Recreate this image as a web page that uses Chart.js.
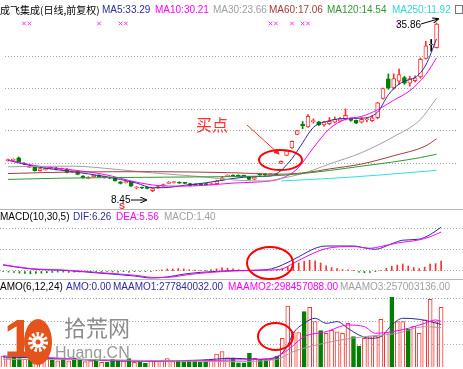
<!DOCTYPE html>
<html>
<head>
<meta charset="utf-8">
<script src="https://cdn.jsdelivr.net/npm/chart.js@4/dist/chart.umd.min.js"></script>
<style>
  body { margin: 0; background: #fff; }
  #wrap { position: relative; width: 463px; height: 369px; overflow: hidden;
          font-family: "Liberation Sans", Arial, "Noto Sans CJK SC", sans-serif; font-size: 10px; }
  canvas { position: absolute; left: 0; }
  .t { position: absolute; white-space: nowrap; line-height: 12px; }
  .sep { position: absolute; left: 0; width: 463px; height: 1px; background: #b8b8b8; }
</style>
</head>
<body>
<div id="wrap">
  <canvas id="main" width="463" height="209" style="top:0"></canvas>
  <canvas id="macd" width="463" height="70" style="top:209px"></canvas>
  <canvas id="amo" width="463" height="90" style="top:279px"></canvas>
  <div class="sep" style="top:209px"></div>
  <div class="sep" style="top:279px"></div>

  <!-- titles -->
  <div class="t" style="left:0;top:4px;color:#000;font-family:'Noto Sans CJK SC';">成飞集成(日线,前复权)</div>
  <div class="t" style="left:102px;top:4px;color:#2c2ca0">MA5:33.29</div>
  <div class="t" style="left:155px;top:4px;color:#ff00ff">MA10:30.21</div>
  <div class="t" style="left:213px;top:4px;color:#a0a0a0">MA30:23.66</div>
  <div class="t" style="left:269px;top:4px;color:#a33c3c">MA60:17.06</div>
  <div class="t" style="left:327px;top:4px;color:#2e9a2e">MA120:14.54</div>
  <div class="t" style="left:392px;top:4px;color:#30d8d8">MA250:11.92</div>
  <div style="position:absolute;left:455px;top:5px;width:6px;height:7px;border:1px solid #777"></div>

  <div class="t" style="left:0;top:211px;color:#000">MACD(10,30,5)</div>
  <div class="t" style="left:73px;top:211px;color:#2c2ca0">DIF:6.26</div>
  <div class="t" style="left:116px;top:211px;color:#ff00ff">DEA:5.56</div>
  <div class="t" style="left:164px;top:211px;color:#a0a0a0">MACD:1.40</div>

  <div class="t" style="left:0;top:281px;color:#000">AMO(6,12,24)</div>
  <div class="t" style="left:66px;top:281px;color:#2c2ca0">AMO:0.00</div>
  <div class="t" style="left:113px;top:281px;color:#2c2ca0">MAAMO1:277840032.00</div>
  <div class="t" style="left:228px;top:281px;color:#ff00ff">MAAMO2:298457088.00</div>
  <div class="t" style="left:340px;top:281px;color:#a0a0a0">MAAMO3:257003136.00</div>

  <!-- notes drawn on the picture -->
  <div class="t" style="left:396px;top:19px;color:#000">35.86</div>
  <div class="t" style="left:111px;top:194px;color:#000">8.45</div>
  <div class="t" style="left:119px;top:200px;color:#ff2020;font-weight:bold;font-size:9px">S</div>
  <div class="t" style="left:196px;top:115px;color:#ff3030;font-size:16px;line-height:18px;font-family:'Noto Sans CJK SC'">买点</div>

  <!-- watermark -->
  <div class="t" style="left:4px;top:308px;color:#e5531d;font-size:54px;line-height:60px;font-weight:bold">1</div>
  <svg width="463" height="369" style="position:absolute;left:0;top:0">
    <ellipse cx="38" cy="342" rx="14" ry="23" fill="#e5531d"/>
    <circle cx="38" cy="342" r="8" fill="none" stroke="#fff" stroke-width="4" stroke-dasharray="2.5 2"/>
    <circle cx="38" cy="342" r="6" fill="#fff"/>
    <circle cx="38" cy="342" r="2.5" fill="#e5531d"/>
  </svg>
  <div class="t" style="left:64px;top:313px;color:#8c8c8c;font-size:22px;line-height:26px;font-family:'Noto Sans CJK SC'">拾荒网</div>
  <div class="t" style="left:55px;top:343px;color:#999;font-size:16px;line-height:20px">Huang.CN</div>

  <svg width="463" height="369" style="position:absolute;left:0;top:0">
    <defs>
      <marker id="ar" markerWidth="6" markerHeight="6" refX="5" refY="3" orient="auto">
        <path d="M0,0 L6,3 L0,6 z" fill="#ff2020"/>
      </marker>
      <marker id="ab" markerWidth="7" markerHeight="6" refX="6" refY="3" orient="auto">
        <path d="M0,0 L7,3 L0,6" fill="none" stroke="#000" stroke-width="1"/>
      </marker>
    </defs>
    <line x1="247" y1="125" x2="279" y2="154" stroke="#ff3030" stroke-width="1" marker-end="url(#ar)"/>
    <ellipse cx="280.5" cy="160" rx="21.5" ry="10" fill="none" stroke="#ff0000" stroke-width="2"/>
    <ellipse cx="270" cy="263" rx="23" ry="16" fill="none" stroke="#ff0000" stroke-width="2"/>
    <ellipse cx="275.5" cy="336.5" rx="17.5" ry="13.5" fill="none" stroke="#ff0000" stroke-width="2"/>
    <line x1="421" y1="24" x2="438" y2="19" stroke="#000" stroke-width="1" marker-end="url(#ab)"/>
    <line x1="131" y1="200" x2="146" y2="200" stroke="#000" stroke-width="1" marker-end="url(#ab)"/>
  </svg>
</div>

<script>
// daily candles, bar index 0..80 (price in yuan)
const open  = [13.50,13.55,13.95,13.10,12.40,12.50,11.85,12.00,12.25,12.30,12.10,12.10,11.70,11.80,11.00,10.60,10.90,11.10,10.80,10.75,
               10.70,10.05,9.90,10.05,9.05,9.10,9.05,8.60,9.05,9.35,9.80,9.95,10.00,9.90,9.75,9.70,9.65,9.70,9.60,9.75,
               10.30,10.95,11.10,11.10,11.00,10.90,10.50,11.25,11.25,11.20,11.30,13.05,14.35,15.55,17.75,19.45,19.00,19.85,19.80,19.30,
               19.50,19.75,19.90,20.20,20.25,20.05,19.75,20.15,20.00,20.50,23.60,26.80,25.30,26.40,27.00,26.10,26.50,27.10,30.10,32.30,31.85];
const high  = [13.75,13.80,14.10,13.20,12.65,12.60,12.30,12.30,12.45,12.40,12.30,12.20,11.85,11.85,11.05,10.90,11.15,11.20,11.00,10.85,
               10.80,10.10,10.20,10.10,9.30,9.20,9.15,9.00,9.35,9.70,10.10,10.10,10.05,9.95,9.80,9.75,9.75,9.80,9.85,10.30,
               10.95,11.20,11.20,11.20,11.15,10.95,10.90,11.35,11.35,11.40,11.35,13.45,15.20,16.70,18.45,19.85,21.00,20.30,19.90,19.90,
               20.50,20.60,20.50,21.90,20.40,20.10,20.50,20.45,20.80,23.00,25.30,27.60,27.60,28.40,27.20,27.20,27.30,30.20,32.90,33.20,35.86];
const low   = [13.40,13.45,13.20,12.85,12.35,11.80,11.80,11.95,12.15,12.00,12.00,11.50,11.55,11.20,10.65,10.55,10.85,10.80,10.65,10.55,
               10.15,9.70,9.85,9.30,8.90,8.95,8.90,8.45,9.00,9.30,9.75,9.85,9.80,9.75,9.40,9.45,9.50,9.55,9.55,9.70,
               10.25,10.90,10.90,10.85,10.90,10.40,10.40,11.10,11.10,11.15,11.10,13.00,14.30,15.50,17.70,18.70,18.90,19.60,19.20,19.10,
               19.35,19.60,19.80,20.10,19.90,19.50,19.60,19.80,19.85,20.30,23.50,25.10,25.10,25.90,25.90,25.60,26.30,26.90,30.00,31.30,31.80];
const close = [13.60,13.62,13.30,12.95,12.55,11.85,12.20,12.20,12.30,12.10,12.20,11.60,11.75,11.25,10.75,10.80,11.10,10.85,10.90,10.65,
               10.20,9.80,10.10,9.35,9.10,9.05,9.00,8.95,9.30,9.60,9.95,10.00,9.85,9.80,9.45,9.50,9.60,9.60,9.75,10.20,
               10.70,11.05,11.00,10.90,10.95,10.45,10.80,11.20,11.20,11.25,11.20,13.40,15.10,16.65,18.40,19.20,20.70,19.95,19.30,19.75,
               19.90,20.20,20.35,20.85,20.05,19.60,20.20,20.25,20.45,22.90,25.20,25.30,26.85,27.50,26.10,26.85,26.95,29.95,32.15,32.30,35.70];

// moving averages: [bar index], [price]
const ma5Idx   = [0,5,12,18,24,27,29,33,37,42,46,49,51,52,53,55,57,60,63,66,69,71,73,75,76,78,80];
const ma5      = [13.57,12.55,11.71,10.94,9.85,9.10,9.10,9.50,9.90,10.60,10.90,11.00,11.90,12.80,13.80,16.40,18.90,20.00,20.35,20.40,21.40,24.20,25.95,26.70,27.00,29.05,33.29];
const ma10Idx  = [0,5,12,18,24,28,32,37,42,46,49,51,54,57,60,63,66,69,72,75,78,80];
const ma10     = [13.60,12.70,12.00,11.25,10.00,9.45,9.35,9.50,9.85,10.00,10.20,10.60,12.17,15.58,18.68,20.22,20.69,21.77,23.32,24.87,27.50,30.21];
const ma30Idx  = [0,12,20,27,36,43,48,51,55,60,66,72,77,80];
const ma30     = [12.50,12.60,12.10,11.50,10.90,10.30,10.20,10.60,11.40,12.95,14.80,17.40,20.20,23.66];
const ma60Idx  = [0,12,27,41,51,56,60,66,72,78,80];
const ma60     = [11.40,11.65,11.70,11.55,11.30,11.60,12.15,12.95,14.30,15.90,17.06];
const ma120Idx = [0,10,20,35,45,51,60,66,72,77,80];
const ma120    = [10.45,10.65,10.75,10.85,10.95,11.10,11.90,12.60,13.30,14.00,14.54];
const ma250Idx = [51,60,70,80];
const ma250    = [10.20,10.60,11.20,11.92];
const signalIdx = [3,4,17,21,22,49,50,53,55,56,73];
const signalLevel = 35.8;
const priceGrid = [30.44,25.18,21.77,18.37,13.10];

// MACD(10,30,5)
const difIdx = [0,5,12,18,24,27,30,33,36,42,47,49,51,54,57,59,64,66,68,71,73,76,78,80];
const dif    = [0.86,0.30,0.05,-0.33,-0.71,-1.00,-0.85,-0.45,-0.20,0.05,0.14,0.30,0.86,2.04,3.24,3.57,3.57,3.30,3.10,3.90,4.40,4.55,5.20,6.26];
const deaIdx = [0,5,12,18,24,28,31,34,38,42,49,51,53,56,59,64,67,69,72,76,78,80];
const dea    = [0.90,0.35,0.10,-0.25,-0.60,-0.95,-0.85,-0.50,-0.20,0.00,0.15,0.30,1.10,2.30,3.20,3.50,3.25,3.50,4.00,4.45,4.90,5.56];
const macd   = [-0.10,-0.15,-0.20,-0.30,-0.35,-0.40,-0.35,-0.30,-0.25,-0.20,-0.15,-0.15,-0.20,-0.15,-0.15,-0.10,-0.15,-0.10,-0.15,-0.10,
                -0.15,-0.15,-0.10,-0.15,-0.10,-0.10,-0.05,-0.05,0.05,0.15,0.30,0.30,0.35,0.30,0.20,0.15,0.05,0.10,0.20,0.30,
                0.45,0.40,0.30,0.20,0.10,0.05,0.05,0.10,0.10,0.10,0.15,0.35,0.60,0.85,1.15,1.40,1.55,1.45,1.15,0.75,
                0.50,0.35,0.20,0.15,0.05,-0.15,-0.25,-0.20,-0.10,0.10,0.40,0.70,0.85,1.00,0.70,0.50,0.35,0.55,1.00,1.05,1.40];
const macdGrid = [0,3,6];

// AMO(6,12,24), amount in 亿元
const amo = [0.72,0.60,0.75,0.55,0.50,0.80,0.60,0.45,0.50,0.45,0.40,0.55,0.40,0.60,0.50,0.35,0.40,0.45,0.30,0.30,
             0.50,0.45,0.40,0.55,0.30,0.30,0.25,0.45,0.40,0.45,0.55,0.35,0.40,0.35,0.45,0.40,0.30,0.35,0.50,0.85,
             1.00,0.60,0.59,0.28,0.28,0.89,0.57,0.50,0.46,0.50,0.72,1.87,3.98,2.30,2.24,3.61,3.89,2.96,2.37,2.20,
             2.40,2.30,2.20,2.85,1.98,1.37,1.87,1.98,2.02,3.11,2.24,4.55,2.96,2.96,2.46,2.67,2.20,3.07,4.42,2.96,3.89];
const maamo1Idx = [0,6,18,27,36,42,47,50,52,53,55,57,59,61,63,65,67,69,71,73,76,78,80];
const maamo1    = [0.65,0.60,0.42,0.38,0.45,0.57,0.50,0.63,1.43,2.20,2.85,3.18,2.85,2.96,2.52,2.09,1.87,1.98,2.74,3.18,3.11,2.96,2.78];
const maamo2Idx = [0,6,18,27,36,42,49,52,55,59,63,66,68,71,74,77,79,80];
const maamo2    = [0.72,0.65,0.45,0.38,0.42,0.46,0.57,1.11,1.98,2.30,2.74,2.63,2.20,2.30,2.52,2.85,3.07,2.98];
const maamo3Idx = [0,12,27,42,50,53,60,66,72,77,80];
const maamo3    = [0.50,0.50,0.42,0.35,0.50,1.00,1.65,1.98,2.20,2.63,2.57];
const amoGrid = [1.5,3.0,4.5];

const UP = '#ff3030', DOWN = '#008000', FLAT = '#000000';
const X_MIN = -0.55, X_MAX = 84.0;
const bars = close.map((c, i) => i);
const candleColor = bars.map(i => close[i] > open[i] ? UP : (close[i] < open[i] ? DOWN : FLAT));
const bodyFill = bars.map(i => close[i] >= open[i] ? '#ffffff' : DOWN);

function pts(xs, ys) { return xs.map((x, k) => ({ x: x, y: ys[k] })); }

function line(xs, ys, color) {
  return { type: 'line', data: pts(xs, ys), borderColor: color, borderWidth: 1,
           pointRadius: 0, cubicInterpolationMode: 'monotone', order: 0 };
}

function options(min, max, grid) {
  return {
    responsive: false, animation: false, events: [],
    layout: { padding: 0 },
    plugins: { legend: { display: false }, tooltip: { enabled: false } },
    scales: {
      x: { type: 'linear', min: X_MIN, max: X_MAX, display: false, offset: false },
      y: {
        type: 'linear', min: min, max: max,
        afterFit: s => { s.width = 0; },
        afterBuildTicks: s => { s.ticks = grid.map(v => ({ value: v })); },
        ticks: { display: false },
        border: { display: false, dash: [1, 2] },
        grid: { color: '#a8a8a8', drawTicks: false }
      }
    }
  };
}

// price panel
new Chart(document.getElementById('main'), {
  type: 'bar',
  data: {
    datasets: [
      line(ma250Idx, ma250, '#30e0e0'),
      line(ma120Idx, ma120, '#2e9a2e'),
      line(ma60Idx, ma60, '#a33c3c'),
      line(ma30Idx, ma30, '#a0a0a0'),
      line(ma10Idx, ma10, '#ff00ff'),
      line(ma5Idx, ma5, '#2c2ca0'),
      { type: 'line', data: signalIdx.map(i => ({ x: i, y: signalLevel })), showLine: false,
        pointStyle: 'crossRot', pointRadius: 2.5, borderColor: '#ff33ff', borderWidth: 1, order: 0 },
      { data: bars.map(i => ({ x: i, y: [low[i], high[i]] })), backgroundColor: candleColor,
        barThickness: 1, grouped: false, order: 3 },
      { data: bars.map(i => ({ x: i, y: [open[i], close[i]] })), backgroundColor: bodyFill,
        borderColor: candleColor, borderWidth: 1, borderSkipped: false, minBarLength: 1,
        barThickness: 4, grouped: false, order: 2 }
    ]
  },
  options: options(6.45, 38.80, priceGrid)
});

// MACD panel
new Chart(document.getElementById('macd'), {
  type: 'bar',
  data: {
    datasets: [
      line(deaIdx, dea, '#ff00ff'),
      line(difIdx, dif, '#2c2ca0'),
      { data: bars.map(i => ({ x: i, y: macd[i] })), backgroundColor: macd.map(v => v >= 0 ? UP : DOWN),
        barThickness: 1, grouped: false, order: 2 }
    ]
  },
  options: options(-1.143, 8.857, macdGrid)
});

// AMO panel
new Chart(document.getElementById('amo'), {
  type: 'bar',
  data: {
    datasets: [
      line(maamo3Idx, maamo3, '#a0a0a0'),
      line(maamo2Idx, maamo2, '#ff00ff'),
      line(maamo1Idx, maamo1, '#2c2ca0'),
      { data: bars.map(i => ({ x: i, y: amo[i] })),
        backgroundColor: bars.map(i => close[i] >= open[i] ? '#ffffff' : DOWN),
        borderColor: bars.map(i => close[i] >= open[i] ? UP : DOWN),
        borderWidth: 1, barThickness: 4, grouped: false, order: 2 }
    ]
  },
  options: options(-0.13, 5.74, amoGrid)
});
</script>
</body>
</html>
